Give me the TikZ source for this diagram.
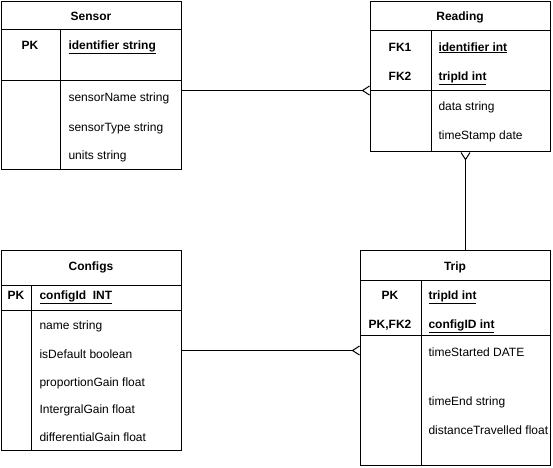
\documentclass[tikz,border=0pt]{standalone}
\usepackage{fontspec}
\setmainfont{Liberation Sans}
\usetikzlibrary{arrows.meta}

\begin{document}
\begin{tikzpicture}[x=1pt,y=-1pt,line width=1pt,
    every node/.style={font=\fontsize{12}{14}\selectfont,inner sep=0pt},
    tbl/.style={draw,anchor=north west},
    title/.style={anchor=base,font=\fontsize{12}{14}\selectfont\bfseries},
    key/.style={anchor=base,font=\fontsize{12}{14}\selectfont\bfseries},
    field/.style={anchor=base west},
    crow/.style={-{Straight Barb[reversed,length=7pt,width=9pt,line width=1pt]}},
    crowstart/.style={{Straight Barb[reversed,length=7pt,width=9pt,line width=1pt]}-}]
  \useasboundingbox (0,0) rectangle (553,467);

  % Sensor
  \node[tbl,minimum width=180pt,minimum height=168pt] (sensor) at (1,1) {};
  \draw (1,29) -- (181,29) (1,80) -- (181,80) (60,29) -- (60,169);
  \node[title] (sensorT) at (91,20) {Sensor};
  \node[key] (sensorK1) at (30,49) {PK};
  \node[field,font=\fontsize{12}{14}\selectfont\bfseries] (sensorF1) at (68,49) {\underline{identifier string}};
  \node[field] (sensorF2) at (68,101) {sensorName string};
  \node[field] (sensorF3) at (68,131) {sensorType string};
  \node[field] (sensorF4) at (68,159) {units string};

  % Reading
  \node[tbl,minimum width=180pt,minimum height=150pt] (reading) at (370,1) {};
  \draw (370,30) -- (550,30) (370,90) -- (550,90) (431,30) -- (431,151);
  \node[title] (readingT) at (460,20) {Reading};
  \node[key] (readingK1) at (400,51) {FK1};
  \node[key] (readingK2) at (400,80) {FK2};
  \node[field,font=\fontsize{12}{14}\selectfont\bfseries] (readingF1) at (438,51) {\underline{identifier int}};
  \node[field,font=\fontsize{12}{14}\selectfont\bfseries] (readingF2) at (438,80) {\underline{tripId int}};
  \node[field] (readingF3) at (438,110) {data string};
  \node[field] (readingF4) at (438,139) {timeStamp date};

  % Configs
  \node[tbl,minimum width=180pt,minimum height=200pt] (configs) at (1,250) {};
  \draw (1,285) -- (181,285) (1,310) -- (181,310) (31,285) -- (31,450);
  \node[title] (configsT) at (91,270) {Configs};
  \node[key] (configsK1) at (16,299) {PK};
  \node[field,font=\fontsize{12}{14}\selectfont\bfseries] (configsF1) at (39,299) {\underline{configId\ \ INT}};
  \node[field] (configsF2) at (39,329) {name string};
  \node[field] (configsF3) at (39,358) {isDefault boolean};
  \node[field] (configsF4) at (39,386) {proportionGain float};
  \node[field] (configsF5) at (39,413) {IntergralGain float};
  \node[field] (configsF6) at (39,441) {differentialGain float};

  % Trip
  \node[tbl,minimum width=190pt,minimum height=215pt] (trip) at (360,250) {};
  \draw (360,280) -- (550,280) (360,335) -- (550,335) (421,280) -- (421,465);
  \node[title] (tripT) at (455,270) {Trip};
  \node[key] (tripK1) at (390,299) {PK};
  \node[key] (tripK2) at (390,328) {PK,FK2};
  \node[field,font=\fontsize{12}{14}\selectfont\bfseries] (tripF1) at (428,299) {\underline{tripId int}};
  \node[field,font=\fontsize{12}{14}\selectfont\bfseries] (tripF2) at (428,328) {\underline{configID int}};
  \node[field] (tripF3) at (428,356) {timeStarted DATE};
  \node[field] (tripF4) at (428,405) {timeEnd string};
  \node[field] (tripF5) at (428,434) {distanceTravelled float};

  % relations
  \draw[crow] ([yshift=-5pt]sensor.east) coordinate (sr) -- (sr -| reading.west);
  \draw[crowstart] ([xshift=5pt]reading.south) coordinate (rt) -- (rt |- trip.north);
  \draw[crow] (configs.east) -- (configs.east -| trip.west);
\end{tikzpicture}
\end{document}
